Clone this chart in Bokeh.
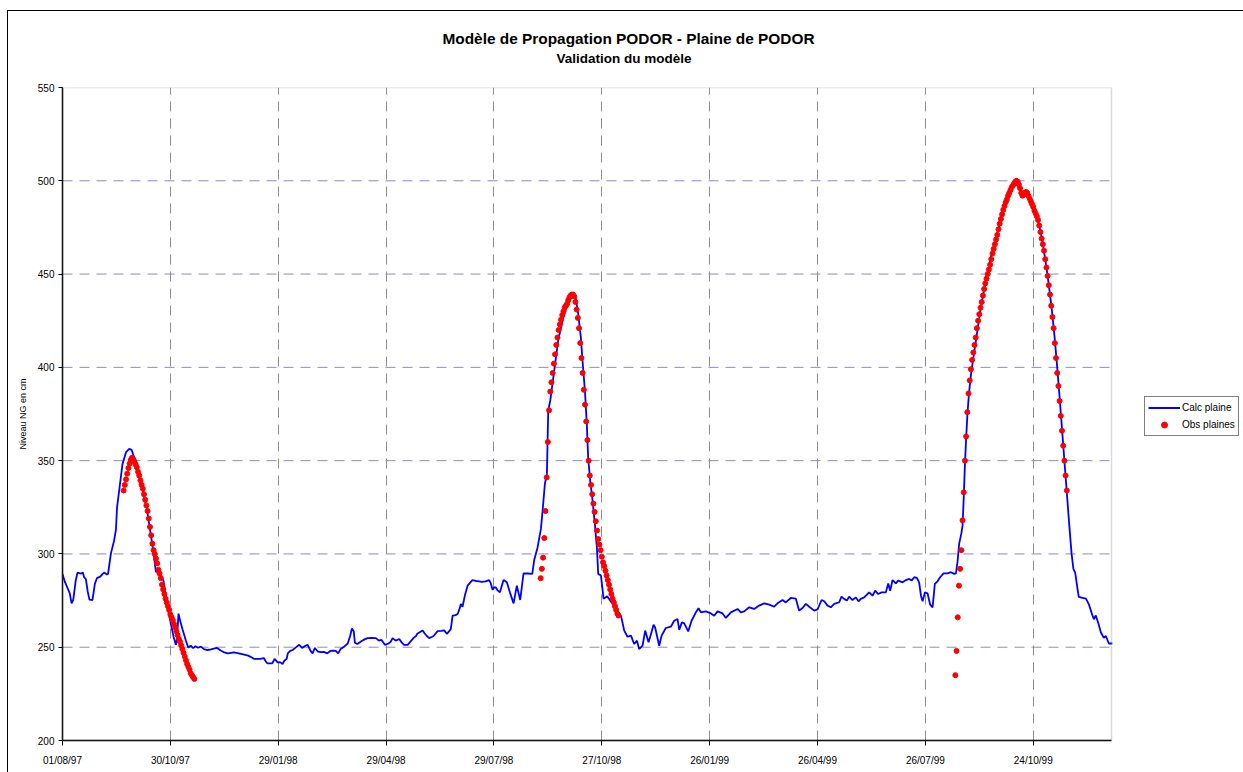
from bokeh.plotting import figure
from bokeh.models import (FixedTicker, Legend, LegendItem, Title,
                          BoxAnnotation)
from bokeh.embed import file_html
from bokeh.resources import INLINE

# ---- data -----------------------------------------------------------------
# x = day index of the series (01/08/97 = 0), ticks every 90 days
tick_days = [0, 90, 180, 270, 360, 450, 540, 630, 720, 810]
tick_labels = ["01/08/97", "30/10/97", "29/01/98", "29/04/98", "29/07/98",
               "27/10/98", "26/01/99", "26/04/99", "26/07/99", "24/10/99"]
y_ticks = [200, 250, 300, 350, 400, 450, 500, 550]
day_span = (0, 875.3)        # extent of the plotting area along x
level_span = (200, 550)      # extent of the plotting area along y

# computed level in the plain (cm NG)
calc_day = [
    0, 2, 4, 6, 7.6, 9, 11, 12.5, 15.5, 17, 18, 19.5, 21, 22.5, 25, 27, 28.7,
    31.5, 33.5, 35, 37, 38, 40.4, 43, 44.6, 45.5, 47.3, 50, 53, 55.7, 57.6,
    59.3, 61.2, 63, 65.4, 68, 70.4, 73, 75.2, 77.9, 81.5, 84.3, 87.1, 90.4,
    92.7, 94.6, 95.6, 96.8, 98.2, 100.2, 103, 104.9, 107, 109, 111, 113,
    115.5, 118, 121, 124, 127, 129, 132, 135, 138, 143, 148, 151.6, 155, 158,
    160, 165, 168, 169.5, 171, 175, 177, 179.5, 181.5, 183.6, 185, 187, 188,
    190, 192, 194.7, 197.5, 200, 202, 204.5, 207, 208.7, 210.6, 213, 215.6,
    218, 221, 223.4, 226, 228, 230, 232, 235, 238, 240, 241.5, 243, 244, 246,
    250, 252, 254.6, 258, 261.5, 264, 266, 269, 272, 274, 275.4, 278, 281,
    283, 285, 288, 291, 293, 295, 296, 298, 300.5, 302.4, 304, 306, 308,
    309.6, 313, 316, 318.5, 320.7, 322.5, 324, 325.5, 328, 329.7, 331, 332.4,
    333.8, 335.7, 338, 342, 345, 347.7, 350, 353, 356, 357.4, 358.9, 360,
    361.6, 363, 365, 368, 370.8, 373.5, 376.4, 379.1, 381.9, 384.7, 388, 392,
    393.6, 396.4, 399.2, 400.6, 402.5, 404.2, 405.3, 407, 410.3, 413.6, 417.3,
    421.4, 425.6, 428.3, 430.3, 432.5, 433.9, 435.9, 437.5, 438.6, 440.3,
    442.3, 444.2, 445.9, 447, 449.3, 451.5, 454.5, 458, 460.9, 463, 466,
    468.7, 471.5, 474.3, 477, 479.3, 481.2, 484, 486.2, 489, 491, 493.2,
    494.5, 497.9, 499.9, 503.4, 507.6, 510.4, 513.2, 514.6, 516.8, 518.8,
    522.1, 524.9, 528.5, 530.7, 532.7, 536.8, 541, 543.8, 546.6, 550.8,
    553.5, 557.7, 563.3, 566, 568.8, 573, 577.1, 581.3, 585.5, 589.7, 593.8,
    596.6, 600.8, 603.5, 607.7, 611.9, 614.7, 617.5, 620.3, 623.1, 627.2,
    630, 633.4, 635.6, 638.4, 641.1, 643.9, 648.1, 650, 652.2, 654.5, 656.4,
    659.2, 662, 664.2, 666.1, 668.9, 673.1, 675.9, 678.1, 680.6, 683.4, 687,
    689, 690.6, 692.6, 695.4, 697.3, 701, 703.8, 706.5, 708.5, 710.7, 712.9,
    714.8, 716.3, 717.7, 719.6, 721.8, 724, 726, 727.9, 730.1, 732.3, 735.2,
    738.5, 741.3, 744, 745.5, 746.8, 748.2, 750, 751, 752, 753, 754, 755,
    756, 757, 758, 760, 763, 766, 770, 775, 780, 785, 790, 793, 796, 798,
    800, 801, 803, 804.7, 806, 808, 811, 814, 816, 818, 820, 822, 824, 826,
    828, 830, 832, 834, 836, 838, 840, 842, 843.5, 845, 847, 848, 851, 854,
    856.4, 858.9, 860.6, 862.2, 864.7, 866.4, 868.9, 870.6, 873.1, 876,
]
calc_level = [
    289.3, 285, 282, 279, 273.5, 275.5, 285.5, 290, 289.5, 290, 287.5, 286.5,
    280, 275.5, 275.3, 284, 287, 287.8, 289.3, 290, 289, 289.3, 300.3, 307,
    313, 325, 334, 348, 354.5, 356.3, 355.8, 352.7, 350, 345, 339, 331, 324,
    313, 304, 290.5, 290, 285.5, 273.5, 262.5, 255.5, 251.3, 255, 268, 264,
    259.5, 253.5, 249.8, 250.8, 249.5, 250.5, 249.7, 250.3, 249, 248.5,
    248.8, 249.4, 249.6, 248.2, 247.2, 246.7, 247.2, 246.5, 246, 245.5,
    244.5, 243.7, 243.8, 244.2, 242.5, 241.3, 241.3, 243.7, 241.9, 242, 241,
    242.7, 243.7, 246.7, 248, 248.5, 249.9, 251.3, 249.6, 250.5, 251.3, 248,
    246.7, 249.6, 247.7, 247.4, 247.5, 246.7, 248, 248.2, 248, 246.7, 249,
    250.3, 252, 256, 260, 258.6, 252.4, 251.7, 253.5, 254.2, 254.9, 255,
    254.9, 253.5, 254, 251.3, 252, 253, 254.9, 253.5, 254.4, 252.6, 251.3,
    251.3, 253.5, 255, 256, 257.2, 258, 259, 257.2, 256, 254.9, 255.5, 256,
    258.6, 258.8, 259, 257.2, 258.5, 259.7, 266.9, 267.2, 267.8, 270, 273.2,
    271.7, 277.6, 283, 286, 285.5, 285.3, 285, 285.3, 286, 284.2, 280.7, 282,
    282, 280.5, 279.4, 286, 284.8, 279, 273.5, 283, 275.3, 289.6, 289.5,
    289.3, 296.8, 303.5, 313.4, 323.2, 337.5, 342.9, 376.9, 382.2, 398.3,
    414.5, 425.2, 434.1, 439.1, 436.8, 428.8, 416.2, 403.7, 387.6, 369.7,
    351.8, 339.3, 328.6, 316.1, 303.5, 289.3, 288.4, 275.9, 277.3, 274.1,
    275, 266, 266.9, 258.9, 255.6, 256.2, 251.7, 253.5, 249, 250.8, 258.9,
    252.6, 257, 262, 260.6, 250.8, 256.2, 260.3, 261, 264.2, 265.1, 259.3,
    263.3, 262.8, 258.5, 264.2, 268.7, 270.9, 268.7, 269.2, 268.1, 266.9,
    269.2, 268.1, 265.7, 268.7, 270.5, 268.7, 269.2, 271.4, 270.5, 272.3,
    273.5, 272.8, 271.7, 273.5, 275.3, 274, 276.4, 276, 269.6, 271, 273.2,
    271.7, 269.6, 270.3, 275.3, 274.6, 272.3, 271.4, 273.2, 274.1, 277.1,
    275.9, 275, 277.1, 275.3, 276.7, 274.6, 275.9, 276.7, 279.4, 277.6,
    280.3, 278.5, 279.4, 279.4, 284.2, 280.3, 286, 284.2, 285.7, 284.8, 286,
    286.6, 285.7, 287.5, 287.2, 284.8, 277.6, 274.6, 279.4, 278.9, 272.8,
    271.4, 283.9, 285.3, 287.5, 289.6, 289.6, 290.2, 289.3, 289.6, 295.7,
    305.5, 311, 315, 330, 348, 362, 374, 383, 390, 396, 405, 418, 431, 445,
    460, 472, 484, 494, 497.5, 500, 498, 493, 491.5, 493, 494, 492, 489, 484,
    479, 473, 466, 458, 449, 439, 428, 415, 400, 384, 367, 350, 333, 316,
    300, 292, 290, 281, 277, 276.5, 276, 273, 268, 265, 267, 262, 258, 255,
    256, 252, 252,
]

# observed level in the plain (cm NG), one reading per day
obs1_start = 51
obs1_level = [
    334, 337, 340, 343, 346, 348.5, 350.5, 351.5, 350.5, 349.5, 348, 346.5,
    344, 342, 339.5, 337, 335, 332, 329, 326, 323, 319, 314.5, 310, 305.5,
    302, 300, 297.5, 295, 291.5, 289.5, 287, 283.5, 281, 278.5, 276, 274,
    272, 270, 267.5, 266, 264.5, 262.5, 260.5, 258.5, 256.5, 254.5, 253, 251,
    249, 247, 245, 243, 241, 239.5, 238, 236, 235, 234, 233,
]
obs2_start = 399
obs2_level = [
    287, 292, 298, 308.5, 323, 341, 360, 377, 387, 392, 397, 402, 407, 412,
    416, 420, 423, 425.5, 428, 430, 432, 433, 434, 436, 437.5, 438.5, 439,
    439, 438, 435, 431, 426.5, 421, 413, 405, 397, 388, 380, 371, 361, 350,
    342, 337, 332, 327, 322.5, 317.5, 312.5, 308, 305, 302, 298.5, 295.5,
    293.5, 291, 288.5, 286, 283.5, 281, 278.5, 276, 274, 272, 270, 268, 267,
]
obs3_start = 745
obs3_level = [
    235, 248, 266, 283, 292, 302, 318, 333, 350, 363, 376, 386, 393, 399,
    404, 408, 412, 416, 421, 425, 428.5, 432, 435, 438.5, 442, 445, 447.5,
    450, 452.5, 455, 458, 461, 463.5, 466, 468.5, 471, 474, 477, 479.5, 482,
    484.5, 486.5, 488.5, 490, 492, 493.5, 495, 496.5, 497.5, 498.5, 499.5,
    500, 499.5, 498, 496, 493.5, 492, 492.5, 493.5, 494, 493.5, 492, 490.5,
    489, 487.5, 486, 484, 482.5, 481, 479, 476, 472.5, 469, 466, 462.5, 458,
    453.5, 449, 444, 439, 433, 427, 421, 413, 405, 397, 390, 382, 374, 366,
    358, 350, 342, 334,
]

obs_day, obs_level = [], []
for start, levels in ((obs1_start, obs1_level), (obs2_start, obs2_level),
                      (obs3_start, obs3_level)):
    obs_day += list(range(start, start + len(levels)))
    obs_level += levels

# ---- figure ---------------------------------------------------------------
FONT = "Liberation Sans"
W, H = 1243, 772
LEFT, TOP, BOTTOM = 62, 87, 32
PLOT_W = 1049                 # pixel width of the plotting area
frame_w = W - LEFT            # frame also holds the legend strip on the right
x_end = day_span[0] + (day_span[1] - day_span[0]) * frame_w / PLOT_W

p = figure(width=W, height=H, x_range=(day_span[0], x_end),
           y_range=level_span, output_backend="svg", toolbar_location=None,
           min_border_left=LEFT, min_border_right=0,
           min_border_top=TOP, min_border_bottom=BOTTOM,
           background_fill_color="white", border_fill_color="white")
p.outline_line_color = None

# axes
p.xaxis.ticker = FixedTicker(ticks=tick_days)
p.xaxis.major_label_overrides = {d: s for d, s in zip(tick_days, tick_labels)}
p.xaxis.bounds = day_span
p.yaxis.ticker = FixedTicker(ticks=y_ticks)
p.xaxis.minor_tick_line_color = None
p.yaxis.minor_tick_line_color = None
for ax in (p.xaxis, p.yaxis):
    ax.axis_line_color = "black"
    ax.axis_line_width = 1.5
    ax.major_tick_line_color = "black"
    ax.major_tick_in = 0
    ax.major_label_text_font = FONT
    ax.major_label_text_font_size = "10px"
    ax.major_label_text_color = "black"
p.xaxis.major_tick_out = 5
p.xaxis.major_label_standoff = 9
p.yaxis.major_tick_out = 4
p.yaxis.major_label_standoff = 4

p.yaxis.axis_label = "Niveau NG en cm"
p.yaxis.axis_label_text_font = FONT
p.yaxis.axis_label_text_font_size = "9px"
p.yaxis.axis_label_text_font_style = "normal"
p.yaxis.axis_label_text_color = "black"
p.yaxis.axis_label_standoff = 7

# dashed grid: vertical lines from the grid, horizontal ones limited to the
# plotting area so they stop short of the legend strip
p.xgrid.ticker = FixedTicker(ticks=tick_days[1:])
p.xgrid.grid_line_color = "#8c8c8c"
p.xgrid.grid_line_dash = "10 7"
p.xgrid.grid_line_width = 1
p.ygrid.grid_line_color = None
h_levels = y_ticks[1:-1]
p.segment(x0=[day_span[0]] * len(h_levels), x1=[day_span[1]] * len(h_levels),
          y0=h_levels, y1=h_levels, line_color="#8c8cbc", line_width=1,
          line_dash="10 7")

# plotting-area border (top and right show; left/bottom sit under the axes)
p.add_layout(BoxAnnotation(left=day_span[0], right=day_span[1],
                           bottom=level_span[0], top=level_span[1],
                           fill_alpha=0, line_color="#808080", line_width=1.5))

# series
calc_r = p.line(calc_day, calc_level, line_color="#0000ff", line_width=1.8)
obs_r = p.scatter(obs_day, obs_level, marker="circle", size=5,
                  fill_color="#ff0000", line_color="#ff0000")

legend = Legend(items=[LegendItem(label="Calc plaine", renderers=[calc_r]),
                       LegendItem(label="Obs plaines", renderers=[obs_r])],
                location=(PLOT_W + 33, 304), orientation="vertical",
                label_text_font=FONT, label_text_font_size="10px",
                label_text_color="black",
                glyph_width=32, glyph_height=15, label_height=15,
                label_standoff=2, spacing=2, padding=3, margin=0,
                border_line_color="black", border_line_width=1,
                background_fill_color="white", background_fill_alpha=1)
p.add_layout(legend, "center")

# titles: a thin gap above the frame, then subtitle, then main title
p.add_layout(Title(text=" ", text_font=FONT, text_font_size="10px",
                   standoff=9), "above")
subtitle = Title(text="Validation du modèle", align="left",
                 offset=556 - LEFT, vertical_align="bottom",
                 text_font=FONT, text_font_size="13.5px",
                 text_font_style="bold", text_color="black", standoff=0)
main_title = Title(text="Modèle de Propagation PODOR - Plaine de PODOR",
                   align="left", offset=442 - LEFT,
                   vertical_align="bottom",
                   text_font=FONT, text_font_size="15.4px",
                   text_font_style="bold", text_color="black", standoff=3)
p.add_layout(subtitle, "above")
p.add_layout(main_title, "above")

# page style: thin black frame line around the whole chart area
page = """
{% block postamble %}
<style>
  body::after {
    content: ""; position: fixed; left: 7px; top: 10px; right: 0; bottom: 0;
    border-left: 1px solid #000; border-top: 1px solid #000;
    pointer-events: none;
  }
</style>
{% endblock %}
"""

open("out.html", "w").write(file_html(p, INLINE, template=page))
